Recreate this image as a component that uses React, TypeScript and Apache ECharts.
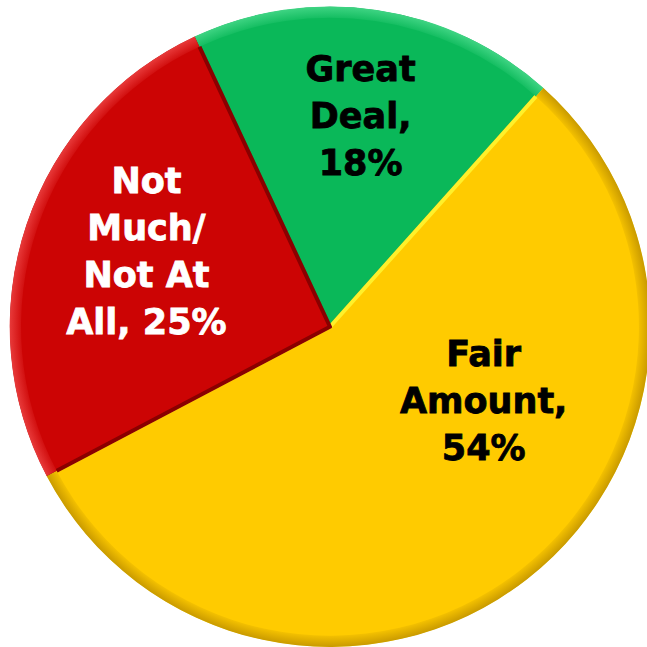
import React, { useEffect, useRef } from 'react';
import * as echarts from 'echarts';

const categories = ['Great Deal', 'Fair Amount', 'Not Much/Not At All'];
const values = [18, 54, 25];
const labelTemplates = ['Great\nDeal,\n{v}%', 'Fair\nAmount,\n{v}%', 'Not\nMuch/\nNot At\nAll, {v}%'];

const sliceColors = ['#0ab859', '#ffcb00', '#cc0404'];
const rimColors = ['#3fd483', '#c99a00', '#e83a3a'];
const edgeColors = ['#06914a', '#fff02a', '#8a0000'];
const labelColors = ['#000000', '#000000', '#ffffff'];
const labelShift = [
  [7, -50],
  [54, -53],
  [-30, -24],
];

export default function App() {
  const ref = useRef<HTMLDivElement>(null);
  useEffect(() => {
    const chart = echarts.init(ref.current as HTMLDivElement, null, { renderer: 'svg' });
    const w = chart.getWidth();
    const h = chart.getHeight();
    const cx = 0.51 * w;
    const cy = 0.505 * h;
    const R = (0.99 * Math.min(w, h)) / 2;
    const rimGrad = (i: number) =>
      new echarts.graphic.RadialGradient(
        cx,
        cy,
        R,
        [
          { offset: 0, color: sliceColors[i] },
          { offset: 0.955, color: sliceColors[i] },
          { offset: 1, color: rimColors[i] },
        ],
        true
      );

    chart.setOption({
      animation: false,
      backgroundColor: '#ffffff',
      series: [
        {
          type: 'pie',
          center: ['51%', '50.5%'],
          radius: '98.3%',
          startAngle: 115,
          clockwise: true,
          silent: true,
          data: categories.map((name, i) => ({
            name,
            value: values[i],
            itemStyle: {
              color: sliceColors[i],
              borderColor: edgeColors[i],
              borderWidth: 4,
            },
            label: { color: labelColors[i], textBorderColor: labelColors[i], textBorderWidth: 0.8 },
          })),
          label: {
            show: true,
            position: 'inside',
            align: 'center',
            fontFamily: 'DejaVu Sans',
            fontWeight: 'bold',
            fontSize: 35,
            lineHeight: 47,
            formatter: (p: any) => labelTemplates[p.dataIndex].replace('{v}', String(p.value)),
          },
          labelLine: { show: false },
          labelLayout: (p: any) => ({ dx: labelShift[p.dataIndex][0], dy: labelShift[p.dataIndex][1] }),
          emphasis: { disabled: true },
        },
        {
          type: 'pie',
          center: ['51%', '50.5%'],
          radius: ['95.5%', '99%'],
          startAngle: 115,
          clockwise: true,
          silent: true,
          z: 3,
          data: categories.map((name, i) => ({
            name,
            value: values[i],
            itemStyle: { color: rimGrad(i) },
          })),
          label: { show: false },
          labelLine: { show: false },
          emphasis: { disabled: true },
        },
      ],
    });
    return () => chart.dispose();
  }, []);
  return (
    <div
      ref={ref}
      style={{ position: 'fixed', left: 0, top: 0, width: 647, height: 647 }}
    />
  );
}
